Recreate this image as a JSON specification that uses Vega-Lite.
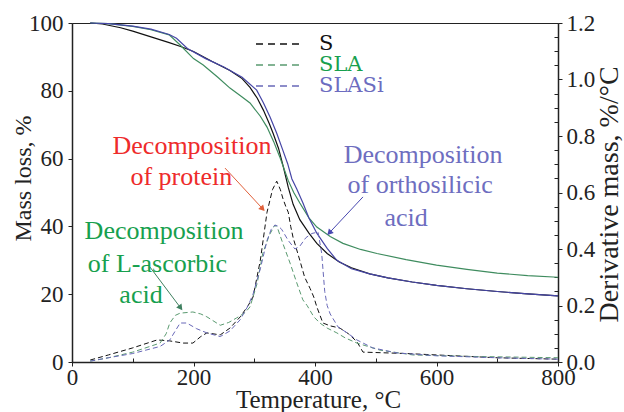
{
"$schema":"https://vega.github.io/schema/vega-lite/v6.json",
"width":486,"height":339,"autosize":"none",
"padding":{"left":72,"top":23,"right":66,"bottom":50},
"background":"white",
"config":{
 "view":{"stroke":"#222","strokeWidth":1},
 "font":"Liberation Serif",
 "axis":{"grid":false,"domainColor":"#222","domainWidth":1.5,"tickColor":"#222","tickWidth":1,"labelColor":"#222","titleColor":"#222","labelFont":"Liberation Serif","titleFont":"Liberation Serif","titleFontWeight":"normal","labelFontSize":23,"titleFontSize":24,"labelOverlap":false,"labelFlush":false}
},
"datasets":{
"tga":[
{"s":"S","T":30,"m":100},{"s":"S","T":50,"m":99.7},{"s":"S","T":80,"m":98.6},{"s":"S","T":100,"m":97.6},{"s":"S","T":130,"m":95.9},{"s":"S","T":160,"m":94.2},{"s":"S","T":180,"m":93},{"s":"S","T":200,"m":91.6},{"s":"S","T":230,"m":88.7},{"s":"S","T":260,"m":86},{"s":"S","T":280,"m":83.6},{"s":"S","T":293,"m":81},{"s":"S","T":305,"m":77.8},{"s":"S","T":315,"m":74.3},{"s":"S","T":325,"m":70.2},{"s":"S","T":331,"m":67.5},{"s":"S","T":340,"m":63},{"s":"S","T":348,"m":57.5},{"s":"S","T":356,"m":51.5},{"s":"S","T":364,"m":46.5},{"s":"S","T":375,"m":42},{"s":"S","T":390,"m":38},{"s":"S","T":403,"m":35},{"s":"S","T":420,"m":32},{"s":"S","T":440,"m":29.5},{"s":"S","T":460,"m":27.8},{"s":"S","T":490,"m":26},{"s":"S","T":520,"m":24.8},{"s":"S","T":560,"m":23.6},{"s":"S","T":600,"m":22.6},{"s":"S","T":650,"m":21.6},{"s":"S","T":700,"m":20.8},{"s":"S","T":750,"m":20.1},{"s":"S","T":800,"m":19.5},
{"s":"SLA","T":30,"m":100},{"s":"SLA","T":60,"m":99.8},{"s":"SLA","T":100,"m":99},{"s":"SLA","T":130,"m":98},{"s":"SLA","T":160,"m":96.5},{"s":"SLA","T":178,"m":93.5},{"s":"SLA","T":200,"m":89.5},{"s":"SLA","T":216,"m":87.6},{"s":"SLA","T":240,"m":84},{"s":"SLA","T":260,"m":80.8},{"s":"SLA","T":280,"m":78.2},{"s":"SLA","T":293,"m":76.4},{"s":"SLA","T":310,"m":72.5},{"s":"SLA","T":321,"m":69.3},{"s":"SLA","T":332,"m":65},{"s":"SLA","T":342,"m":60.5},{"s":"SLA","T":350,"m":56.5},{"s":"SLA","T":356,"m":53.5},{"s":"SLA","T":365,"m":50},{"s":"SLA","T":375,"m":46.9},{"s":"SLA","T":390,"m":42.5},{"s":"SLA","T":403,"m":39.8},{"s":"SLA","T":425,"m":37},{"s":"SLA","T":446,"m":35},{"s":"SLA","T":475,"m":33.2},{"s":"SLA","T":502,"m":32},{"s":"SLA","T":550,"m":30.2},{"s":"SLA","T":600,"m":28.6},{"s":"SLA","T":650,"m":27.3},{"s":"SLA","T":700,"m":26.2},{"s":"SLA","T":750,"m":25.5},{"s":"SLA","T":800,"m":25},
{"s":"SLASi","T":30,"m":100},{"s":"SLASi","T":60,"m":99.8},{"s":"SLASi","T":100,"m":99.1},{"s":"SLASi","T":130,"m":98.2},{"s":"SLASi","T":160,"m":96.6},{"s":"SLASi","T":172,"m":95.5},{"s":"SLASi","T":190,"m":92.5},{"s":"SLASi","T":220,"m":89.5},{"s":"SLASi","T":250,"m":87},{"s":"SLASi","T":280,"m":84},{"s":"SLASi","T":304,"m":80.2},{"s":"SLASi","T":315,"m":76.5},{"s":"SLASi","T":326,"m":72.3},{"s":"SLASi","T":337,"m":67.5},{"s":"SLASi","T":347,"m":62.5},{"s":"SLASi","T":355,"m":58.5},{"s":"SLASi","T":362,"m":54},{"s":"SLASi","T":370,"m":51},{"s":"SLASi","T":380,"m":47},{"s":"SLASi","T":390,"m":42.5},{"s":"SLASi","T":403,"m":38},{"s":"SLASi","T":420,"m":33.5},{"s":"SLASi","T":436,"m":30},{"s":"SLASi","T":460,"m":27.5},{"s":"SLASi","T":490,"m":26},{"s":"SLASi","T":520,"m":24.8},{"s":"SLASi","T":560,"m":23.6},{"s":"SLASi","T":600,"m":22.6},{"s":"SLASi","T":650,"m":21.6},{"s":"SLASi","T":700,"m":20.8},{"s":"SLASi","T":750,"m":20.1},{"s":"SLASi","T":800,"m":19.5}
],
"dtg":[
{"s":"S","T":30,"d":0.007},{"s":"S","T":60,"d":0.025},{"s":"S","T":100,"d":0.05},{"s":"S","T":140,"d":0.078},{"s":"S","T":160,"d":0.075},{"s":"S","T":183,"d":0.067},{"s":"S","T":199,"d":0.067},{"s":"S","T":212,"d":0.09},{"s":"S","T":222,"d":0.103},{"s":"S","T":244,"d":0.096},{"s":"S","T":260,"d":0.12},{"s":"S","T":277,"d":0.16},{"s":"S","T":290,"d":0.2},{"s":"S","T":298,"d":0.23},{"s":"S","T":310,"d":0.36},{"s":"S","T":321,"d":0.53},{"s":"S","T":330,"d":0.61},{"s":"S","T":337,"d":0.64},{"s":"S","T":343,"d":0.61},{"s":"S","T":347,"d":0.58},{"s":"S","T":352,"d":0.55},{"s":"S","T":356,"d":0.53},{"s":"S","T":360,"d":0.48},{"s":"S","T":364,"d":0.44},{"s":"S","T":375,"d":0.36},{"s":"S","T":383,"d":0.3},{"s":"S","T":392,"d":0.26},{"s":"S","T":398,"d":0.23},{"s":"S","T":403,"d":0.195},{"s":"S","T":413,"d":0.138},{"s":"S","T":425,"d":0.128},{"s":"S","T":441,"d":0.12},{"s":"S","T":455,"d":0.1},{"s":"S","T":469,"d":0.072},{"s":"S","T":479,"d":0.035},{"s":"S","T":507,"d":0.033},{"s":"S","T":550,"d":0.03},{"s":"S","T":600,"d":0.025},{"s":"S","T":700,"d":0.015},{"s":"S","T":800,"d":0.01},
{"s":"SLA","T":30,"d":0.003},{"s":"SLA","T":60,"d":0.015},{"s":"SLA","T":100,"d":0.035},{"s":"SLA","T":145,"d":0.067},{"s":"SLA","T":155,"d":0.1},{"s":"SLA","T":161,"d":0.138},{"s":"SLA","T":170,"d":0.165},{"s":"SLA","T":178,"d":0.173},{"s":"SLA","T":199,"d":0.177},{"s":"SLA","T":212,"d":0.17},{"s":"SLA","T":222,"d":0.16},{"s":"SLA","T":244,"d":0.13},{"s":"SLA","T":258,"d":0.14},{"s":"SLA","T":271,"d":0.156},{"s":"SLA","T":285,"d":0.175},{"s":"SLA","T":293,"d":0.195},{"s":"SLA","T":305,"d":0.28},{"s":"SLA","T":314,"d":0.385},{"s":"SLA","T":325,"d":0.45},{"s":"SLA","T":334,"d":0.485},{"s":"SLA","T":339,"d":0.47},{"s":"SLA","T":347,"d":0.42},{"s":"SLA","T":359,"d":0.35},{"s":"SLA","T":370,"d":0.28},{"s":"SLA","T":380,"d":0.22},{"s":"SLA","T":387,"d":0.2},{"s":"SLA","T":398,"d":0.16},{"s":"SLA","T":408,"d":0.138},{"s":"SLA","T":420,"d":0.12},{"s":"SLA","T":436,"d":0.103},{"s":"SLA","T":450,"d":0.085},{"s":"SLA","T":469,"d":0.067},{"s":"SLA","T":507,"d":0.042},{"s":"SLA","T":561,"d":0.025},{"s":"SLA","T":650,"d":0.02},{"s":"SLA","T":800,"d":0.015},
{"s":"SLASi","T":30,"d":0.003},{"s":"SLASi","T":60,"d":0.015},{"s":"SLASi","T":100,"d":0.03},{"s":"SLASi","T":145,"d":0.055},{"s":"SLASi","T":161,"d":0.078},{"s":"SLASi","T":170,"d":0.11},{"s":"SLASi","T":178,"d":0.138},{"s":"SLASi","T":189,"d":0.138},{"s":"SLASi","T":205,"d":0.118},{"s":"SLASi","T":222,"d":0.103},{"s":"SLASi","T":244,"d":0.09},{"s":"SLASi","T":260,"d":0.11},{"s":"SLASi","T":277,"d":0.15},{"s":"SLASi","T":290,"d":0.2},{"s":"SLASi","T":298,"d":0.24},{"s":"SLASi","T":310,"d":0.33},{"s":"SLASi","T":321,"d":0.43},{"s":"SLASi","T":328,"d":0.47},{"s":"SLASi","T":334,"d":0.485},{"s":"SLASi","T":340,"d":0.48},{"s":"SLASi","T":345,"d":0.47},{"s":"SLASi","T":356,"d":0.43},{"s":"SLASi","T":367,"d":0.4},{"s":"SLASi","T":375,"d":0.41},{"s":"SLASi","T":385,"d":0.44},{"s":"SLASi","T":395,"d":0.455},{"s":"SLASi","T":405,"d":0.46},{"s":"SLASi","T":411,"d":0.385},{"s":"SLASi","T":416,"d":0.25},{"s":"SLASi","T":420,"d":0.2},{"s":"SLASi","T":425,"d":0.17},{"s":"SLASi","T":438,"d":0.124},{"s":"SLASi","T":455,"d":0.1},{"s":"SLASi","T":469,"d":0.078},{"s":"SLASi","T":495,"d":0.05},{"s":"SLASi","T":535,"d":0.032},{"s":"SLASi","T":600,"d":0.022},{"s":"SLASi","T":700,"d":0.015},{"s":"SLASi","T":800,"d":0.01}
],
"notes":[
{"g":"tP","t":"Decomposition","T":197.5,"m":61.3},
{"g":"tP","t":"of protein","T":180,"m":52.2},
{"g":"tS","t":"Decomposition","T":578,"m":58.7},
{"g":"tS","t":"of orthosilicic","T":573,"m":49.9},
{"g":"tS","t":"acid","T":550,"m":40.1},
{"g":"tA","t":"Decomposition","T":151.5,"m":36.3},
{"g":"tA","t":"of L-ascorbic","T":140.7,"m":26.5},
{"g":"tA","t":"acid","T":113.6,"m":17.4}
],
"arrows":[
{"g":"aP","T":251.9,"m":57.2,"T2":312.8,"m2":45.4},
{"g":"aA","T":128.4,"m":28,"T2":177.8,"m2":16.2},
{"g":"aS","T":479,"m":48.7,"T2":424.7,"m2":38.3}
]
},
"layer":[
 {"layer":[
  {"data":{"name":"tga"},"mark":{"type":"line","strokeWidth":1.2},
   "encoding":{
    "x":{"field":"T","type":"quantitative","scale":{"domain":[0,800],"nice":false},
     "axis":{"title":"Temperature, °C","values":[0,50,100,150,200,250,300,350,400,450,500,550,600,650,700,750,800],"labelExpr":"datum.value % 200 === 0 ? datum.label : ''","tickSize":{"condition":{"test":"datum.value % 200 === 0","value":4},"value":-4},"labelPadding":0,"titleFontSize":25,"titleX":246,"titleY":45,"titleBaseline":"alphabetic","titleAlign":"center"}},
    "y":{"field":"m","type":"quantitative","scale":{"domain":[0,100],"nice":false},
     "axis":{"title":"Mass loss, %","values":[0,5,10,15,20,25,30,35,40,45,50,55,60,65,70,75,80,85,90,95,100],"labelExpr":"datum.value % 20 === 0 ? datum.label : ''","tickSize":{"condition":{"test":"datum.value % 20 === 0","value":4},"value":-4},"labelPadding":5,"titleX":-49,"titleY":155,"titleAngle":270,"titleAlign":"center","titleBaseline":"middle"}},
    "color":{"field":"s","type":"nominal","scale":{"domain":["S","SLA","SLASi","aP","aA","aS"],"range":["#111111","#3f8c5f","#4646a6","#e0603a","#3f8060","#4848b0"]},"legend":null}
   }},
  {"data":{"name":"arrows"},"mark":{"type":"rule","strokeWidth":1},
   "encoding":{"x":{"field":"T","type":"quantitative"},"y":{"field":"m","type":"quantitative"},"x2":{"field":"T2"},"y2":{"field":"m2"},"color":{"field":"g","type":"nominal","legend":null}}},
  {"data":{"name":"arrows"},"transform":[{"filter":"datum.g === 'aP'"}],"mark":{"type":"point","shape":"triangle","filled":true,"size":45,"angle":137,"opacity":1},
   "encoding":{"x":{"field":"T2","type":"quantitative"},"y":{"field":"m2","type":"quantitative"},"color":{"field":"g","type":"nominal","legend":null}}},
  {"data":{"name":"arrows"},"transform":[{"filter":"datum.g === 'aA'"}],"mark":{"type":"point","shape":"triangle","filled":true,"size":45,"angle":143,"opacity":1},
   "encoding":{"x":{"field":"T2","type":"quantitative"},"y":{"field":"m2","type":"quantitative"},"color":{"field":"g","type":"nominal","legend":null}}},
  {"data":{"name":"arrows"},"transform":[{"filter":"datum.g === 'aS'"}],"mark":{"type":"point","shape":"triangle","filled":true,"size":45,"angle":223,"opacity":1},
   "encoding":{"x":{"field":"T2","type":"quantitative"},"y":{"field":"m2","type":"quantitative"},"color":{"field":"g","type":"nominal","legend":null}}},
  {"data":{"name":"notes"},"mark":{"type":"text","font":"Liberation Serif","fontSize":26,"align":"center","baseline":"alphabetic"},
   "encoding":{"x":{"field":"T","type":"quantitative"},"y":{"field":"m","type":"quantitative"},"text":{"field":"t"},
    "fill":{"field":"g","type":"nominal","scale":{"domain":["tP","tA","tS"],"range":["#ee2b2b","#17a04e","#6e6ec0"]},"legend":null}}}
 ]},
 {"data":{"name":"dtg"},"mark":{"type":"line","strokeWidth":1,"strokeDash":[5,3]},
  "encoding":{
   "x":{"field":"T","type":"quantitative"},
   "y":{"field":"d","type":"quantitative","scale":{"domain":[0,1.2],"nice":false},
    "axis":{"orient":"right","title":"Derivative mass, %/°C","values":[0,0.05,0.1,0.15,0.2,0.25,0.3,0.35,0.4,0.45,0.5,0.55,0.6,0.65,0.7,0.75,0.8,0.85,0.9,0.95,1,1.05,1.1,1.15,1.2],"format":".1f","labelExpr":"round(datum.value*100) % 20 === 0 ? datum.label : ''","tickSize":{"condition":{"test":"round(datum.value*100) % 20 === 0","value":4},"value":-4},"labelPadding":4,"titleFontSize":28,"titleX":51,"titleY":171,"titleAngle":270,"titleAlign":"center","titleBaseline":"middle"}},
   "stroke":{"field":"s","type":"nominal","scale":{"domain":["S","SLA","SLASi"],"range":["#111111","#5a9a70","#6868b8"]},
    "legend":{"orient":"none","legendX":183,"legendY":12,"title":null,"symbolType":"stroke","symbolSize":2209,"symbolStrokeWidth":1.3,"symbolDash":[7,5],"clipHeight":18,"rowPadding":0,"padding":0,"labelFont":"DejaVu Serif","labelFontSize":21,"labelOffset":15,"labelBaseline":"middle","labelLimit":200,
     "encode":{"symbols":{"update":{"stroke":{"signal":"datum.value === 'SLA' ? '#b7d45c' : datum.value === 'SLASi' ? '#7474c4' : '#111111'"}}},
               "labels":{"update":{"fill":{"signal":"datum.value === 'SLA' ? '#17a04e' : datum.value === 'SLASi' ? '#6c6cc0' : '#111111'"}}}}}}
  }}
],
"resolve":{"scale":{"y":"independent"}}
}
